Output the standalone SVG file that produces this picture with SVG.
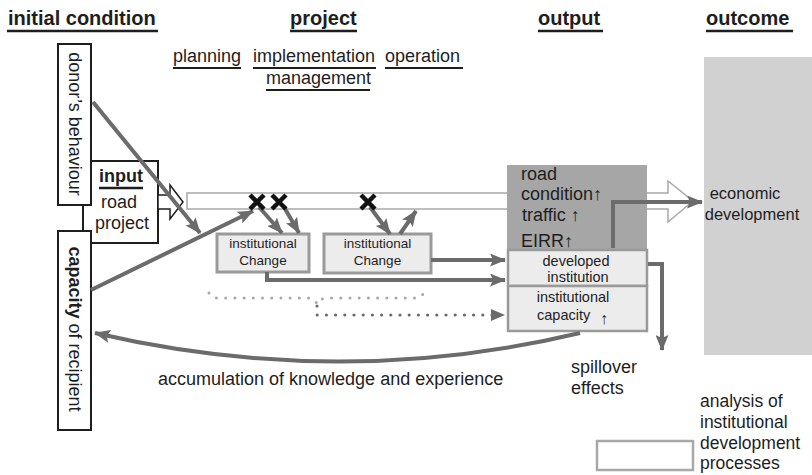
<svg xmlns="http://www.w3.org/2000/svg" width="812" height="475" viewBox="0 0 812 475">
  <defs>
    <style>
      text { font-family: "Liberation Sans", "DejaVu Sans", Arial, sans-serif; fill: #1e1e1e; }
      .hd { font-size: 20px; font-weight: bold; }
      .sub { font-size: 18px; }
      .txt { font-size: 18px; }
      .small { font-size: 13.5px; }
      .mid { font-size: 14.5px; }
      .ul { stroke: #1e1e1e; stroke-width: 2.5; }
      .ul2 { stroke: #1e1e1e; stroke-width: 2; }
      .frame { fill: #fff; stroke: #1e1e1e; stroke-width: 2; }
      .ichg { fill: #ececec; stroke: #9a9a9a; stroke-width: 3; }
      .inst { fill: #ececec; stroke: #9a9a9a; stroke-width: 2.5; }
      .flow { fill: none; stroke: #6b6b6b; stroke-width: 4; }
      .hollow { fill: #fff; stroke: #a8a8a8; stroke-width: 1.5; }
      .cross { stroke: #111; stroke-width: 4.5; }
      .dotL { fill: none; stroke: #a8a8a8; stroke-width: 3; stroke-linecap: round; stroke-dasharray: 0 9.2; }
      .dotD { fill: none; stroke: #6b6b6b; stroke-width: 3.2; stroke-linecap: round; stroke-dasharray: 0 9.2; }
    </style>
    <marker id="head" markerUnits="userSpaceOnUse" markerWidth="16" markerHeight="13" refX="15" refY="6.5" orient="auto">
      <path d="M0,0 L16,6.5 L0,13 L3,6.5 z" fill="#6b6b6b"/>
    </marker>
  </defs>

  <!-- column headings -->
  <g id="headings">
    <text class="hd" x="8" y="25">initial condition</text>
    <line class="ul" x1="7" y1="31" x2="158" y2="31"/>
    <text class="hd" x="290" y="25">project</text>
    <line class="ul" x1="290" y1="31" x2="357" y2="31"/>
    <text class="hd" x="538" y="25">output</text>
    <line class="ul" x1="538" y1="31" x2="603" y2="31"/>
    <text class="hd" x="706" y="25">outcome</text>
    <line class="ul" x1="706" y1="31" x2="793" y2="31"/>
  </g>

  <!-- project phases -->
  <g id="phases">
    <text class="sub" x="173" y="62">planning</text>
    <line class="ul2" x1="173" y1="68" x2="241" y2="68"/>
    <text class="sub" x="253" y="62">implementation</text>
    <line class="ul2" x1="253" y1="68" x2="376" y2="68"/>
    <text class="sub" x="385" y="62">operation</text>
    <line class="ul2" x1="385" y1="68" x2="463" y2="68"/>
    <text class="sub" x="266" y="84">management</text>
    <line class="ul2" x1="266" y1="90" x2="370" y2="90"/>
  </g>

  <!-- outcome column -->
  <g id="outcome">
    <rect x="704" y="57" width="108" height="298" fill="#d1d1d1"/>
    <text class="txt" x="745" y="199" text-anchor="middle" style="font-size:16.5px">economic</text>
    <text class="txt" x="752" y="220" text-anchor="middle" style="font-size:16.5px">development</text>
  </g>

  <!-- road project input -->
  <g id="input">
    <rect class="frame" x="83" y="161" width="75" height="82"/>
    <text class="txt" x="99" y="182" font-weight="bold">input</text>
    <line class="ul" x1="99" y1="188" x2="143" y2="188"/>
    <text class="txt" x="101" y="208">road</text>
    <text class="txt" x="95" y="229">project</text>
    <polygon points="158,195 170,195 170,185 183,202 170,219 170,209 158,209" fill="#fff" stroke="#1e1e1e" stroke-width="1.5"/>
  </g>

  <g id="donor">
    <rect class="frame" x="58" y="44" width="33" height="161"/>
    <text class="txt" transform="translate(69,124) rotate(90)" text-anchor="middle">donor’s behaviour</text>
  </g>

  <g id="capacity">
    <rect class="frame" x="58" y="231" width="33" height="199"/>
    <text class="txt" transform="translate(69,329) rotate(90)" text-anchor="middle"><tspan font-weight="bold">capacity</tspan> of recipient</text>
  </g>

  <!-- main project flow -->
  <g id="project-flow">
    <rect class="hollow" x="187" y="193" width="321" height="16"/>
    <polygon class="hollow" points="646,193 668,193 668,181 693,201 668,222 668,209 646,209"/>
  </g>

  <g id="output">
    <rect x="507" y="165" width="140" height="86" fill="#a6a6a6"/>
    <text class="txt" x="521" y="180">road</text>
    <text class="txt" x="521" y="200">condition↑</text>
    <text class="txt" x="522" y="221">traffic ↑</text>
    <text class="txt" x="521" y="247">EIRR↑</text>
  </g>

  <g id="institution">
    <rect class="inst" x="508" y="250" width="139" height="36"/>
    <rect class="inst" x="508" y="286" width="139" height="45"/>
    <text class="mid" x="576" y="266" text-anchor="middle">developed</text>
    <text class="mid" x="578" y="282" text-anchor="middle">institution</text>
    <text class="mid" x="573" y="302" text-anchor="middle">institutional</text>
    <text class="mid" x="537" y="320">capacity<tspan x="600" y="324" style="font-size:16px">↑</tspan></text>
  </g>

  <g id="change1">
    <rect class="ichg" x="217" y="234" width="92" height="38"/>
    <text class="small" x="263" y="248" text-anchor="middle">institutional</text>
    <text class="small" x="263" y="265" text-anchor="middle">Change</text>
  </g>

  <g id="change2">
    <rect class="ichg" x="324" y="234" width="107" height="39"/>
    <text class="small" x="377.5" y="248" text-anchor="middle">institutional</text>
    <text class="small" x="377.5" y="265" text-anchor="middle">Change</text>
  </g>

  <!-- connectors -->
  <g id="connectors">
    <path class="flow" d="M93,102 L200,233" marker-end="url(#head)"/>
    <path class="flow" d="M91,290 L253,211" marker-end="url(#head)"/>
    <path class="flow" d="M259,207 L282,233" marker-end="url(#head)"/>
    <path class="flow" d="M284,207 L299,233" marker-end="url(#head)"/>
    <path class="flow" d="M370,207 L390,234" marker-end="url(#head)"/>
    <path class="flow" d="M400,234 L416,211" marker-end="url(#head)"/>
    <path class="flow" d="M431,260 L505,260" marker-end="url(#head)"/>
    <path class="flow" d="M267,272 L267,280 L505,280" marker-end="url(#head)"/>
    <path class="flow" d="M613,248 L613,202 L702,202" marker-end="url(#head)"/>
    <path class="flow" d="M648,264 L662,264 L662,350" marker-end="url(#head)"/>
    <path class="flow" d="M580,333 Q340,390 95,333" marker-end="url(#head)"/>
    <path class="dotL" d="M209,293 Q212,298 218,298 L308,298 Q315,299 317,304 Q319,299 326,298 L414,298 Q420,298 423,294"/>
    <path class="dotD" d="M317,306 L317,315 L498,315"/>
    <path d="M491,309 L505,315 L491,321 z" fill="#6b6b6b"/>
  </g>

  <!-- blocked paths -->
  <g id="crosses">
    <path class="cross" d="M250,195 L264,209 M264,195 L250,209"/>
    <path class="cross" d="M272,195 L286,209 M286,195 L272,209"/>
    <path class="cross" d="M361,195 L375,209 M375,195 L361,209"/>
  </g>

  <g id="labels">
    <text class="txt" x="158" y="385">accumulation of knowledge and experience</text>
    <text class="txt" x="571" y="373">spillover</text>
    <text class="txt" x="571" y="394">effects</text>
  </g>

  <g id="legend">
    <rect x="597" y="441" width="96" height="29" fill="#fff" stroke="#a8a8a8" stroke-width="2.5"/>
    <text class="txt" x="700" y="407" style="font-size:17.5px">analysis of</text>
    <text class="txt" x="700" y="428" style="font-size:17.5px">institutional</text>
    <text class="txt" x="700" y="449" style="font-size:17.5px">development</text>
    <text class="txt" x="700" y="469" style="font-size:17.5px">processes</text>
  </g>
</svg>
